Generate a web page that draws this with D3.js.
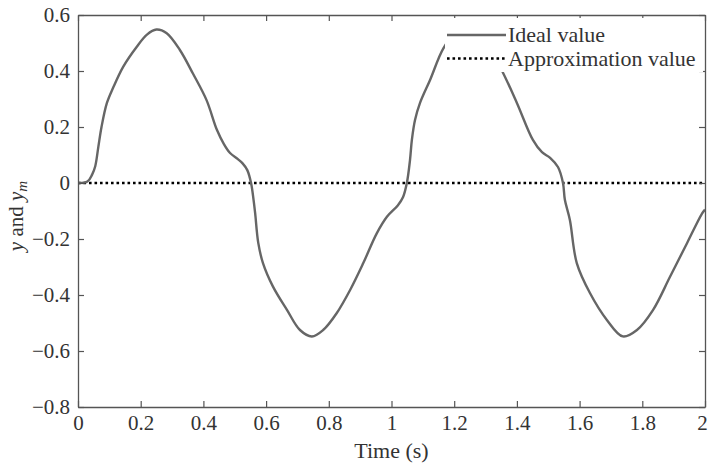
<!DOCTYPE html>
<html><head><meta charset="utf-8">
<script src="https://cdn.jsdelivr.net/npm/d3@7"></script>
<style>
body{margin:0;background:#fff;}
svg{display:block;}
svg text{font-family:"Liberation Serif","Times New Roman",serif;}
</style></head>
<body><svg id="c" width="708" height="465"></svg>
<script>
const timeIdeal = [0,0.03,0.045,0.055,0.065,0.075,0.092,0.112,0.144,0.187,0.22,0.25,0.283,0.325,0.367,0.41,0.443,0.465,0.485,0.51,0.525,0.54,0.552,0.56,0.565,0.575,0.59,0.622,0.667,0.708,0.746,0.782,0.825,0.868,0.91,0.953,0.986,1.02,1.037,1.049,1.059,1.065,1.075,1.091,1.123,1.165,1.2,1.25,1.3,1.356,1.40,1.451,1.48,1.506,1.531,1.547,1.553,1.569,1.591,1.633,1.687,1.738,1.783,1.834,1.888,1.943,1.99,2.0];
const idealValues = [0,0.005,0.03,0.06,0.13,0.2,0.285,0.34,0.415,0.486,0.53,0.548,0.535,0.475,0.39,0.296,0.19,0.14,0.107,0.085,0.07,0.046,0,-0.06,-0.107,-0.214,-0.286,-0.37,-0.454,-0.525,-0.548,-0.525,-0.465,-0.382,-0.286,-0.18,-0.12,-0.08,-0.05,0,0.082,0.154,0.225,0.286,0.368,0.48,0.53,0.548,0.51,0.393,0.286,0.154,0.11,0.09,0.057,0,-0.06,-0.132,-0.286,-0.393,-0.489,-0.548,-0.525,-0.454,-0.336,-0.214,-0.11,-0.095];
const timeApprox = [0, 2];
const approxValues = [0, 0];
const xTicks = [0,0.2,0.4,0.6,0.8,1,1.2,1.4,1.6,1.8,2];
const yTicks = [-0.8,-0.6,-0.4,-0.2,0,0.2,0.4,0.6];
const seriesNames = ["Ideal value","Approximation value"];

const svg = d3.select("#c");
const L=78, R=705, T=15, B=407;
const x = d3.scaleLinear().domain([0,2]).range([L,R]);
const y = d3.scaleLinear().domain([-0.8,0.6]).range([B,T]);
const axisColor="#555";
const FONT = "Liberation Serif, Times New Roman, serif";
const fmt = d=> (d<0? "\u2212"+String(Math.abs(d)) : String(d));

const line = d3.line().x(d=>x(d[0])).y(d=>y(d[1])).curve(d3.curveCatmullRom.alpha(0.5));

svg.append("path").datum(timeApprox.map((t,i)=>[t,approxValues[i]]))
  .attr("d",d3.line().x(d=>x(d[0])).y(d=>y(d[1]))).attr("fill","none").attr("stroke","#000").attr("stroke-width",2.3)
  .attr("stroke-dasharray","2.6,2.9");
svg.append("path").datum(timeIdeal.map((t,i)=>[t,idealValues[i]]))
  .attr("d",line).attr("fill","none").attr("stroke","#666").attr("stroke-width",2.4)
  .attr("stroke-linejoin","round");

function styleAxis(g){
  g.attr("font-family",FONT).attr("font-size",21);
  g.select(".domain").attr("stroke",axisColor).attr("stroke-width",1.3);
  g.selectAll(".tick line").attr("stroke",axisColor).attr("stroke-width",1.2);
  g.selectAll(".tick text").attr("fill","#333");
}
const xb = svg.append("g").attr("transform",`translate(0,${B})`)
  .call(d3.axisBottom(x).tickValues(xTicks).tickFormat(fmt).tickSizeInner(-6).tickSizeOuter(0).tickPadding(8));
styleAxis(xb);
xb.selectAll(".tick text").filter(d=>d===2).attr("dx",-3);
const xt = svg.append("g").attr("transform",`translate(0,${T})`)
  .call(d3.axisTop(x).tickValues(xTicks).tickFormat("").tickSizeInner(-6).tickSizeOuter(0));
styleAxis(xt);
const yl = svg.append("g").attr("transform",`translate(${L},0)`)
  .call(d3.axisLeft(y).tickValues(yTicks).tickFormat(fmt).tickSizeInner(-6).tickSizeOuter(0).tickPadding(8));
styleAxis(yl);
const yr = svg.append("g").attr("transform",`translate(${R},0)`)
  .call(d3.axisRight(y).tickValues(yTicks).tickFormat("").tickSizeInner(-6).tickSizeOuter(0));
styleAxis(yr);

svg.append("text").attr("x",(L+R)/2).attr("y",458).attr("text-anchor","middle")
  .attr("fill","#333").attr("font-family",FONT).attr("font-size",22).text("Time (s)");
const yt = svg.append("text").attr("transform",`translate(23,216) rotate(-90)`)
  .attr("text-anchor","middle").attr("fill","#333").attr("font-family",FONT).attr("font-size",21);
yt.append("tspan").attr("font-style","italic").text("y");
yt.append("tspan").text(" and ");
yt.append("tspan").attr("font-style","italic").text("y");
yt.append("tspan").attr("font-style","italic").attr("font-size",15).attr("dy","4").text("m");

const lg = svg.append("g");
lg.append("rect").attr("x",445).attr("y",18).attr("width",258).attr("height",54).attr("fill","#fff");
const lx0=447, lx1=506;
lg.append("line").attr("x1",lx0).attr("x2",lx1).attr("y1",35).attr("y2",35)
  .attr("stroke","#666").attr("stroke-width",2.4);
lg.append("line").attr("x1",lx0).attr("x2",lx1).attr("y1",58.5).attr("y2",58.5)
  .attr("stroke","#000").attr("stroke-width",2.3).attr("stroke-dasharray","2.6,2.9");
lg.selectAll("text.lt").data(seriesNames).enter().append("text").attr("class","lt")
  .attr("x",508).attr("y",(d,i)=>42+i*24).attr("fill","#333").attr("font-family",FONT).attr("font-size",22).text(d=>d);
</script></body></html>
